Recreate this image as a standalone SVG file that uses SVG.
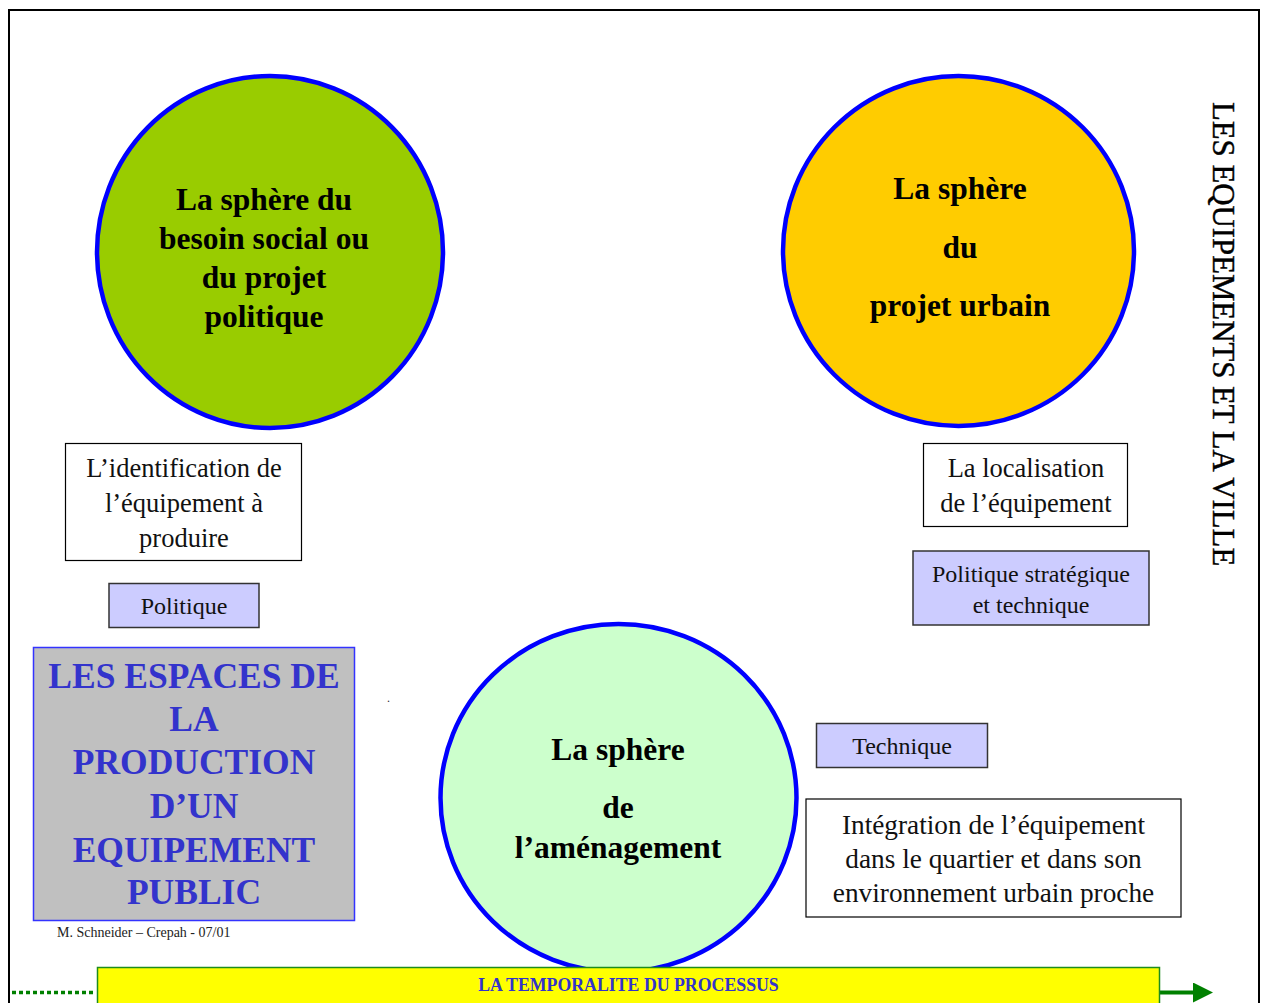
<svg xmlns="http://www.w3.org/2000/svg" width="1266" height="1003" viewBox="0 0 1266 1003">
<style>
  .serif { font-family: "Liberation Serif", "Times New Roman", serif; }
  .sphere { stroke: #0000FF; stroke-width: 4.5; }
  .sphtxt { font-family: "Liberation Serif", serif; font-weight: bold; font-size: 31.5px; fill: #000; text-anchor: middle; }
  .wbox { fill: #FFFFFF; stroke: #000; stroke-width: 1.2; }
  .lbox { fill: #CCCCFF; stroke: #333; stroke-width: 1.5; }
  .btxt { font-family: "Liberation Serif", serif; font-size: 26.5px; fill: #111; text-anchor: middle; }
  .ltxt { font-family: "Liberation Serif", serif; font-size: 24px; fill: #111; text-anchor: middle; }
  .title { font-family: "Liberation Serif", serif; font-weight: bold; font-size: 35.5px; fill: #3333CC; text-anchor: middle; }
</style>
<defs>
  <marker id="arrow" markerUnits="userSpaceOnUse" markerWidth="20" markerHeight="20" viewBox="0 0 20 20" refX="2" refY="10" orient="auto">
    <path d="M0,0 L20,10 L0,20 Z" fill="#008000"/>
  </marker>
</defs>
<rect width="1266" height="1003" fill="#FFFFFF"/>
<path d="M9,1003 V10 H1259 V1003" fill="none" stroke="#000" stroke-width="2"/>

<g id="sphere-besoin">
  <ellipse cx="270" cy="252" rx="173" ry="176" fill="#99CC00" class="sphere"/>
  <text class="sphtxt" x="264" y="210">La sphère du</text>
  <text class="sphtxt" x="264" y="249">besoin social ou</text>
  <text class="sphtxt" x="264" y="288">du projet</text>
  <text class="sphtxt" x="264" y="327">politique</text>
</g>

<g id="sphere-projet-urbain">
  <ellipse cx="958.5" cy="251" rx="175.5" ry="175" fill="#FFCC00" class="sphere"/>
  <text class="sphtxt" x="960" y="199">La sphère</text>
  <text class="sphtxt" x="960" y="258">du</text>
  <text class="sphtxt" x="960" y="316">projet urbain</text>
</g>

<g id="sphere-amenagement">
  <ellipse cx="618.5" cy="798" rx="178" ry="174" fill="#CCFFCC" class="sphere"/>
  <text class="sphtxt" x="618" y="760">La sphère</text>
  <text class="sphtxt" x="618" y="818">de</text>
  <text class="sphtxt" x="618" y="858">l’aménagement</text>
</g>

<g id="box-identification">
  <rect class="wbox" x="65.5" y="443.5" width="236" height="117"/>
  <text class="btxt" x="184" y="477">L’identification de</text>
  <text class="btxt" x="184" y="512">l’équipement à</text>
  <text class="btxt" x="184" y="547">produire</text>
</g>

<g id="box-politique">
  <rect class="lbox" x="109" y="583.5" width="150" height="44"/>
  <text class="ltxt" x="184" y="614">Politique</text>
</g>

<g id="box-localisation">
  <rect class="wbox" x="923.5" y="443.5" width="204" height="83"/>
  <text class="btxt" x="1026" y="477">La localisation</text>
  <text class="btxt" x="1026" y="512">de l’équipement</text>
</g>

<g id="box-politique-strategique">
  <rect class="lbox" x="913" y="551" width="236" height="74"/>
  <text class="ltxt" x="1031" y="582">Politique stratégique</text>
  <text class="ltxt" x="1031" y="613">et technique</text>
</g>

<g id="box-technique">
  <rect class="lbox" x="816.5" y="723.5" width="171" height="44"/>
  <text class="ltxt" x="902" y="754">Technique</text>
</g>

<g id="box-integration">
  <rect class="wbox" x="806" y="799" width="375" height="118"/>
  <text class="btxt" x="993.5" y="834" style="font-size:27.3px">Intégration de l’équipement</text>
  <text class="btxt" x="993.5" y="868" style="font-size:27.3px">dans le quartier et dans son</text>
  <text class="btxt" x="993.5" y="902" style="font-size:27.3px">environnement urbain proche</text>
</g>

<g id="box-espaces">
  <rect x="33.5" y="647.5" width="321" height="273" fill="#C0C0C0" stroke="#3333FF" stroke-width="1.5"/>
  <text class="title" x="194" y="688">LES ESPACES DE</text>
  <text class="title" x="194" y="731">LA</text>
  <text class="title" x="194" y="774">PRODUCTION</text>
  <text class="title" x="194" y="818">D’UN</text>
  <text class="title" x="194" y="862">EQUIPEMENT</text>
  <text class="title" x="194" y="904">PUBLIC</text>
</g>

<text class="serif" x="387" y="702" font-size="12" fill="#333">.</text>
<text class="serif" x="57" y="937" font-size="14" fill="#222">M. Schneider – Crepah - 07/01</text>

<text class="serif" transform="translate(1213,102) rotate(90)" font-size="30.8" fill="#000" stroke="#000" stroke-width="0.4">LES EQUIPEMENTS ET LA VILLE</text>

<g id="connectors">
  <line x1="12" y1="992.5" x2="96" y2="992.5" stroke="#008000" stroke-width="3.5" stroke-dasharray="4 3"/>
  <line x1="1160" y1="992.5" x2="1195" y2="992.5" stroke="#008000" stroke-width="4" marker-end="url(#arrow)"/>
</g>

<g id="timeline">
  <rect x="97.5" y="967.5" width="1062" height="50" fill="#FFFF00" stroke="#1E8C1E" stroke-width="1.5"/>
  <text x="628.5" y="991" font-family="Liberation Serif, serif" font-weight="bold" font-size="17.8" fill="#3333CC" text-anchor="middle">LA TEMPORALITE DU PROCESSUS</text>
</g>
</svg>
